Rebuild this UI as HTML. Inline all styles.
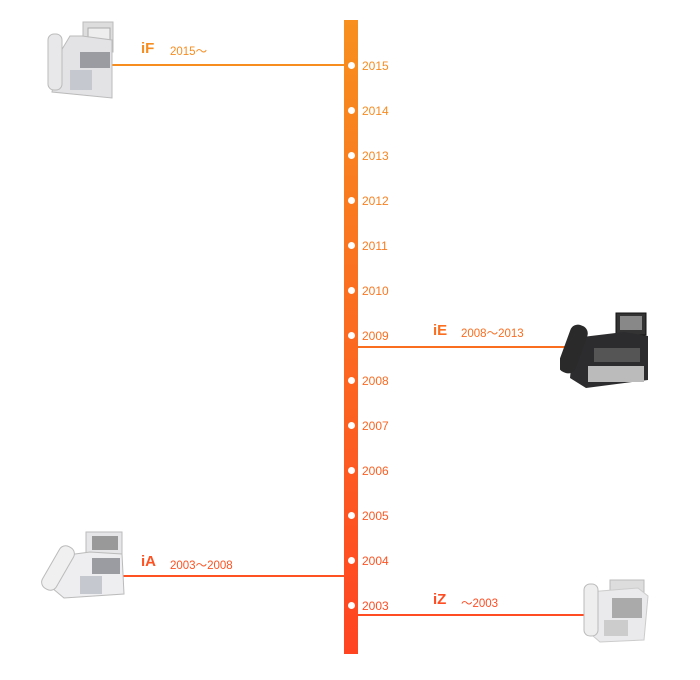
<!DOCTYPE html>
<html><head><meta charset="utf-8"><style>
body{margin:0;width:700px;height:680px;background:#fff;position:relative;font-family:"Liberation Sans","Noto Sans CJK JP",sans-serif;overflow:hidden}
.a{position:absolute}
.bar{left:344px;top:20px;width:14px;height:634px;background:linear-gradient(#f7901e,#ff4422)}
.dot{position:absolute;left:348px;width:7px;height:7px;border-radius:50%;background:#fff}
.yr{position:absolute;left:362px;font-size:12px}
.ln{position:absolute;height:2px}
.nm{position:absolute;font-size:15px;font-weight:bold}
.rg{position:absolute;font-size:11.5px}
</style></head><body>
<div class="a bar"></div>
<div class="dot" style="top:62px"></div><div class="yr" style="top:59px;color:#f78c1f">2015</div>
<div class="dot" style="top:107px"></div><div class="yr" style="top:104px;color:#f78a1f">2014</div>
<div class="dot" style="top:152px"></div><div class="yr" style="top:149px;color:#f7851f">2013</div>
<div class="dot" style="top:197px"></div><div class="yr" style="top:194px;color:#f8801f">2012</div>
<div class="dot" style="top:242px"></div><div class="yr" style="top:239px;color:#f97b20">2011</div>
<div class="dot" style="top:287px"></div><div class="yr" style="top:284px;color:#f97620">2010</div>
<div class="dot" style="top:332px"></div><div class="yr" style="top:329px;color:#fa7020">2009</div>
<div class="dot" style="top:377px"></div><div class="yr" style="top:374px;color:#fb6a21">2008</div>
<div class="dot" style="top:422px"></div><div class="yr" style="top:419px;color:#fb6421">2007</div>
<div class="dot" style="top:467px"></div><div class="yr" style="top:464px;color:#fc5e21">2006</div>
<div class="dot" style="top:512px"></div><div class="yr" style="top:509px;color:#fd5822">2005</div>
<div class="dot" style="top:557px"></div><div class="yr" style="top:554px;color:#fe5222">2004</div>
<div class="dot" style="top:602px"></div><div class="yr" style="top:599px;color:#ff4c22">2003</div>

<div class="ln" style="left:110px;width:234px;top:64px;background:#f78c1f"></div>
<div class="nm" style="left:141px;top:40px;color:#f78c1f">iF</div>
<div class="rg" style="left:170px;top:43px;color:#f78c1f">2015～</div>

<div class="ln" style="left:358px;width:228px;top:346px;background:#fa6e20"></div>
<div class="nm" style="left:433px;top:322px;color:#fa6e20">iE</div>
<div class="rg" style="left:461px;top:325px;color:#fa6e20">2008～2013</div>

<div class="ln" style="left:110px;width:234px;top:575px;background:#fe5222"></div>
<div class="nm" style="left:141px;top:553px;color:#fe5222">iA</div>
<div class="rg" style="left:170px;top:557px;color:#fe5222">2003～2008</div>

<div class="ln" style="left:358px;width:226px;top:614px;background:#ff4c22"></div>
<div class="nm" style="left:433px;top:591px;color:#ff4c22">iZ</div>
<div class="rg" style="left:461px;top:595px;color:#ff4c22">～2003</div>

<svg class="a" style="left:40px;top:20px" width="80" height="80"><rect x="43" y="2" width="30" height="30" fill="#ddd" stroke="#bbb"/><rect x="48" y="8" width="22" height="12" fill="#eee" stroke="#aaa"/><path d="M18 36l12-20h12l30 4 0 58-60-6z" fill="#e3e3e6" stroke="#bbb"/><rect x="8" y="14" width="14" height="56" rx="6" fill="#e8e8ea" stroke="#bbb"/><rect x="40" y="32" width="30" height="16" fill="#9a9ca2"/><rect x="30" y="50" width="22" height="20" fill="#c6c8d0"/></svg>
<svg class="a" style="left:560px;top:310px" width="92" height="80"><rect x="56" y="3" width="30" height="22" fill="#333" stroke="#111"/><rect x="60" y="6" width="22" height="14" fill="#888"/><path d="M14 28l50-6 24 4 0 44-62 8-16-10z" fill="#2c2c2e"/><rect x="4" y="14" width="18" height="50" rx="8" fill="#2a2a2a" transform="rotate(20 13 39)"/><rect x="34" y="38" width="46" height="14" fill="#555"/><rect x="28" y="56" width="56" height="16" fill="#bbb"/></svg>
<svg class="a" style="left:40px;top:530px" width="90" height="70"><rect x="46" y="2" width="36" height="24" fill="#e6e6e8" stroke="#bbb"/><rect x="52" y="6" width="26" height="14" fill="#999"/><path d="M20 26l30-4 32 2 2 40-60 4-12-10z" fill="#eeeef0" stroke="#bbb"/><rect x="10" y="14" width="16" height="48" rx="7" fill="#f0f0f0" stroke="#bbb" transform="rotate(30 18 38)"/><rect x="52" y="28" width="28" height="16" fill="#9a9ca2"/><rect x="40" y="46" width="22" height="18" fill="#c6c8d0"/></svg>
<svg class="a" style="left:578px;top:576px" width="72" height="70"><rect x="32" y="4" width="34" height="16" fill="#ddd" stroke="#bbb"/><path d="M10 16l50-4 10 8-4 44-44 2-14-12z" fill="#eaeaec" stroke="#ccc"/><rect x="6" y="8" width="14" height="52" rx="6" fill="#eee" stroke="#bbb"/><rect x="34" y="22" width="30" height="20" fill="#aaa"/><rect x="26" y="44" width="24" height="16" fill="#ccc"/></svg>
</body></html>
